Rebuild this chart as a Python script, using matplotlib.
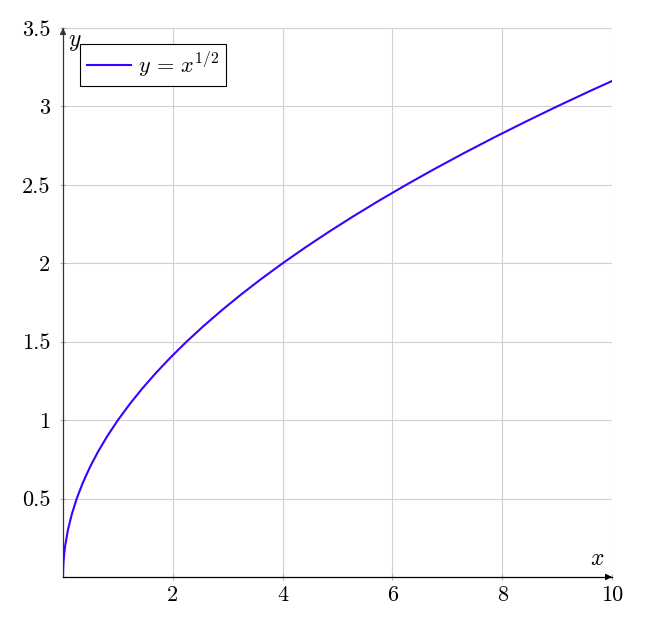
import matplotlib
matplotlib.use("Agg")
import matplotlib.pyplot as plt

plt.rcParams['font.family'] = 'serif'
plt.rcParams['font.serif'] = ['cmr10', 'DejaVu Serif']
plt.rcParams['mathtext.fontset'] = 'cm'
plt.rcParams['axes.unicode_minus'] = False

x_vals = [0, 0.0025, 0.01, 0.0225, 0.04, 0.09, 0.16, 0.25, 0.36, 0.49, 0.64, 0.81,
          1.0, 1.21, 1.44, 1.69, 1.96, 2.25, 2.56, 2.89, 3.24, 3.61, 4.0, 4.41, 4.84,
          5.29, 5.76, 6.25, 6.76, 7.29, 7.84, 8.41, 9.0, 9.61, 10.0]
y_vals = [0, 0.05, 0.1, 0.15, 0.2, 0.3, 0.4, 0.5, 0.6, 0.7, 0.8, 0.9,
          1.0, 1.1, 1.2, 1.3, 1.4, 1.5, 1.6, 1.7, 1.8, 1.9, 2.0, 2.1, 2.2,
          2.3, 2.4, 2.5, 2.6, 2.7, 2.8, 2.9, 3.0, 3.1, 3.162]

x_ticks = [2, 4, 6, 8, 10]
x_labels = ['2', '4', '6', '8', '10']
y_ticks = [0.5, 1, 1.5, 2, 2.5, 3, 3.5]
y_labels = ['0.5', '1', '1.5', '2', '2.5', '3', '3.5']

fig = plt.figure(figsize=(6.65, 6.27), dpi=100)
ax = fig.add_axes([63 / 665, 1 - 577 / 627, 549 / 665, 549 / 627])

ax.plot(x_vals, y_vals, color='#3b00ff', lw=1.5, label=r'$y\,=\,x^{1/2}$', zorder=3)

ax.set_xlim(0, 10)
ax.set_ylim(0, 3.5)
ax.set_xticks(x_ticks)
ax.set_xticklabels(x_labels)
ax.set_yticks(y_ticks)
ax.set_yticklabels(y_labels)
ax.grid(True, color='#d0d0d0', lw=0.8)
ax.tick_params(length=4, width=0.8, color='#b0b0b0', labelsize=16, direction='inout')
ax.tick_params(axis='y', pad=7)
ax.tick_params(axis='x', pad=4)

for side in ['top', 'right']:
    ax.spines[side].set_visible(False)
ax.spines['left'].set_color('#333333')
ax.spines['bottom'].set_color('black')
ax.spines['left'].set_linewidth(0.9)
ax.spines['bottom'].set_linewidth(0.9)

# arrow heads on the axes
ax.annotate('', xy=(1.0, 0), xytext=(0.99, 0), xycoords='axes fraction',
            arrowprops=dict(arrowstyle='-|>', color='black', lw=0.9, mutation_scale=9),
            annotation_clip=False)
ax.annotate('', xy=(0, 1.0), xytext=(0, 0.99), xycoords='axes fraction',
            arrowprops=dict(arrowstyle='-|>', color='#333333', lw=0.9, mutation_scale=9),
            annotation_clip=False)

ax.text(0.973, 0.012, r'$x$', transform=ax.transAxes, fontsize=17, ha='center', va='bottom')
ax.text(0.022, 0.975, r'$y$', transform=ax.transAxes, fontsize=17, ha='center', va='center')

leg = ax.legend(loc='upper left', bbox_to_anchor=(0.031, 0.971), fontsize=16,
                frameon=True, fancybox=False, edgecolor='black', framealpha=1,
                handlelength=2.0, handletextpad=0.3, borderpad=0.3, borderaxespad=0)
leg.get_frame().set_linewidth(0.8)

fig.savefig('out.png', dpi=100)
